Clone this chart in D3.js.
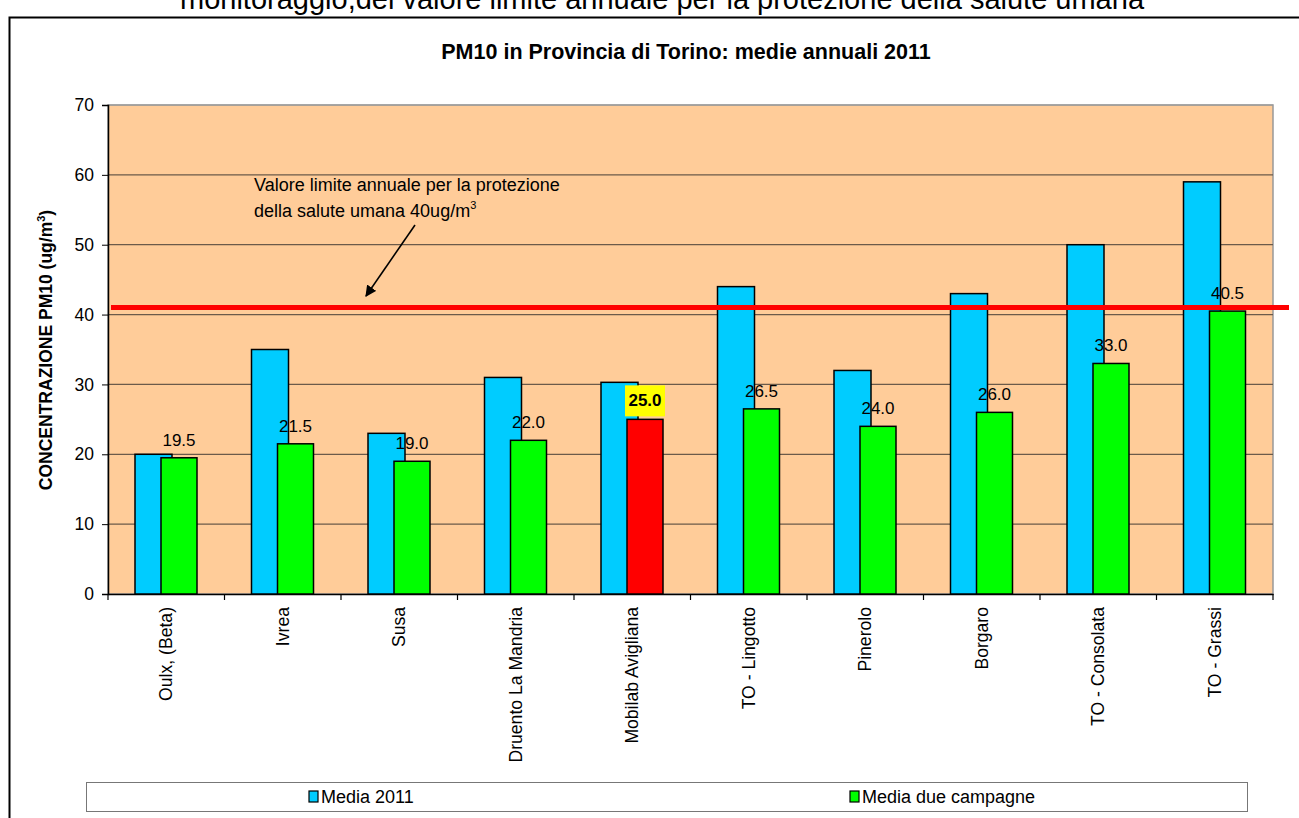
<!DOCTYPE html>
<html>
<head>
<meta charset="utf-8">
<title></title>
<style>
  body { margin: 0; background: #fff; }
  svg { display: block; font-family: "Liberation Sans", Arial, sans-serif; }
</style>
</head>
<body>
<svg id="chart" width="1299" height="818"></svg>
<script src="https://d3js.org/d3.v7.min.js"></script>
<script>
const categories = ["Oulx, (Beta)", "Ivrea", "Susa", "Druento La Mandria", "Mobilab Avigliana",
  "TO - Lingotto", "Pinerolo", "Borgaro", "TO - Consolata", "TO - Grassi"];
const media2011 = [20, 35, 23, 31, 30.3, 44, 32, 43, 50, 59];
const mediaCampagne = [19.5, 21.5, 19.0, 22.0, 25.0, 26.5, 24.0, 26.0, 33.0, 40.5];
const highlight = "Mobilab Avigliana";
const limitValue = 41;
const yTicks = [0, 10, 20, 30, 40, 50, 60, 70];

const svg = d3.select("#chart");
const m = {left: 108, right: 1273, top: 105, bottom: 594};

const x = d3.scaleBand().domain(categories).range([m.left, m.right]);
const y = d3.scaleLinear().domain([0, 70]).range([m.bottom, m.top]);

// testo della pagina sopra, tagliato dal bordo
svg.append("text")
    .attr("x", 662).attr("y", 9)
    .attr("text-anchor", "middle")
    .style("font-size", "29px")
    .text("monitoraggio,del valore limite annuale per la protezione della salute umana");

// cornice
svg.append("path")
    .attr("d", "M9.5,818 V17.5 H1299")
    .attr("fill", "none").attr("stroke", "#000").attr("stroke-width", 2);

svg.append("text")
    .attr("x", 686).attr("y", 59)
    .attr("text-anchor", "middle")
    .style("font-size", "21.5px").style("font-weight", "bold")
    .text("PM10 in Provincia di Torino: medie annuali 2011");

// area del grafico
svg.append("rect")
    .attr("x", m.left).attr("y", m.top)
    .attr("width", m.right - m.left).attr("height", m.bottom - m.top)
    .attr("fill", "#FFCC99").attr("stroke", "#999").attr("stroke-width", 1.5);

svg.append("g")
  .selectAll("line")
  .data(yTicks.slice(1))
  .join("line")
    .attr("x1", m.left).attr("x2", m.right)
    .attr("y1", d => y(d)).attr("y2", d => y(d))
    .attr("stroke", d => d === 70 ? "#999" : "#6b5a4a").attr("stroke-width", 1.2);

const yAxis = svg.append("g")
    .attr("transform", `translate(${m.left},0)`)
    .call(d3.axisLeft(y).tickValues(yTicks).tickSize(6).tickPadding(8));
yAxis.select(".domain").attr("stroke", "#000").attr("stroke-width", 1.5);
yAxis.selectAll(".tick line").attr("stroke", "#000");
yAxis.selectAll("text").style("font-size", "17.5px").attr("fill", "#000");

const xAxis = svg.append("g")
    .attr("transform", `translate(0,${m.bottom})`)
    .call(d3.axisBottom(x).tickSize(0).tickFormat(""));
xAxis.select(".domain").attr("stroke", "#000").attr("stroke-width", 1.5);
svg.append("g")
  .selectAll("line")
  .data(categories.map(c => x(c)).concat([m.right]))
  .join("line")
    .attr("x1", d => d).attr("x2", d => d)
    .attr("y1", m.bottom).attr("y2", m.bottom + 6)
    .attr("stroke", "#000").attr("stroke-width", 1.2);

svg.append("g")
  .selectAll("text")
  .data(categories)
  .join("text")
    .attr("transform", d => `translate(${x(d) + x.bandwidth() / 2 + 6},${m.bottom + 13}) rotate(-90)`)
    .attr("text-anchor", "end")
    .style("font-size", "17.6px")
    .text(d => d);

svg.append("text")
    .attr("transform", "translate(52,350) rotate(-90)")
    .attr("text-anchor", "middle")
    .style("font-size", "17.5px").style("font-weight", "bold")
    .html('CONCENTRAZIONE PM10 (ug/m<tspan dy="-7" font-size="11px">3</tspan><tspan dy="7">)</tspan>');

const bw = 37;
const off1 = 27, off2 = 53;

svg.append("g")
  .selectAll("rect")
  .data(categories)
  .join("rect")
    .attr("x", d => x(d) + off1)
    .attr("y", (d, i) => y(media2011[i]))
    .attr("width", bw)
    .attr("height", (d, i) => y(0) - y(media2011[i]))
    .attr("fill", "#00CCFF").attr("stroke", "#000").attr("stroke-width", 1.5);

svg.append("g")
  .selectAll("rect")
  .data(categories)
  .join("rect")
    .attr("x", d => x(d) + off2)
    .attr("y", (d, i) => y(mediaCampagne[i]))
    .attr("width", bw - 1)
    .attr("height", (d, i) => y(0) - y(mediaCampagne[i]))
    .attr("fill", d => d === highlight ? "#FF0000" : "#00FF00")
    .attr("stroke", "#000").attr("stroke-width", 1.5);

// etichette valori
const labels = svg.append("g");
categories.forEach((c, i) => {
  const cx = x(c) + off2 + (bw - 1) / 2;
  const ty = y(mediaCampagne[i]) - 12;
  if (c === highlight) {
    labels.append("rect")
      .attr("x", cx - 20).attr("y", ty - 22)
      .attr("width", 40).attr("height", 31)
      .attr("fill", "#FFFF00");
    labels.append("text")
      .attr("x", cx).attr("y", ty - 1)
      .attr("text-anchor", "middle")
      .style("font-size", "17px").style("font-weight", "bold")
      .text(d3.format(".1f")(mediaCampagne[i]));
  } else {
    labels.append("text")
      .attr("x", cx).attr("y", ty)
      .attr("text-anchor", "middle")
      .style("font-size", "17px")
      .text(d3.format(".1f")(mediaCampagne[i]));
  }
});

// linea limite
svg.append("line")
    .attr("x1", m.left + 3).attr("x2", 1289)
    .attr("y1", y(limitValue)).attr("y2", y(limitValue))
    .attr("stroke", "#FF0000").attr("stroke-width", 5);

const ann = svg.append("text")
    .style("font-size", "18px");
ann.append("tspan").attr("x", 254).attr("y", 191).text("Valore limite annuale per la protezione");
ann.append("tspan").attr("x", 254).attr("y", 217).text("della salute umana 40ug/m");
ann.append("tspan").attr("dy", -8).style("font-size", "11px").text("3");

svg.append("defs").append("marker")
    .attr("id", "arrow").attr("viewBox", "0 0 10 10")
    .attr("refX", 9).attr("refY", 5)
    .attr("markerWidth", 7).attr("markerHeight", 7)
    .attr("orient", "auto")
  .append("path").attr("d", "M0,0 L10,5 L0,10 z").attr("fill", "#000");

svg.append("line")
    .attr("x1", 415).attr("y1", 225).attr("x2", 366).attr("y2", 296)
    .attr("stroke", "#000").attr("stroke-width", 1.6)
    .attr("marker-end", "url(#arrow)");

// legenda
svg.append("rect")
    .attr("x", 86.5).attr("y", 782.5).attr("width", 1161).attr("height", 29)
    .attr("fill", "#fff").attr("stroke", "#777").attr("stroke-width", 1);

const legend = [
  {name: "Media 2011", color: "#00CCFF", x: 309},
  {name: "Media due campagne", color: "#00FF00", x: 850}
];
const lg = svg.append("g").selectAll("g").data(legend).join("g")
    .attr("transform", d => `translate(${d.x},797)`);
lg.append("rect")
    .attr("x", 0).attr("y", -6).attr("width", 9).attr("height", 11)
    .attr("fill", d => d.color).attr("stroke", "#000").attr("stroke-width", 1.2);
lg.append("text")
    .attr("x", 12).attr("y", 6)
    .style("font-size", "18px")
    .text(d => d.name);
</script>
</body>
</html>
